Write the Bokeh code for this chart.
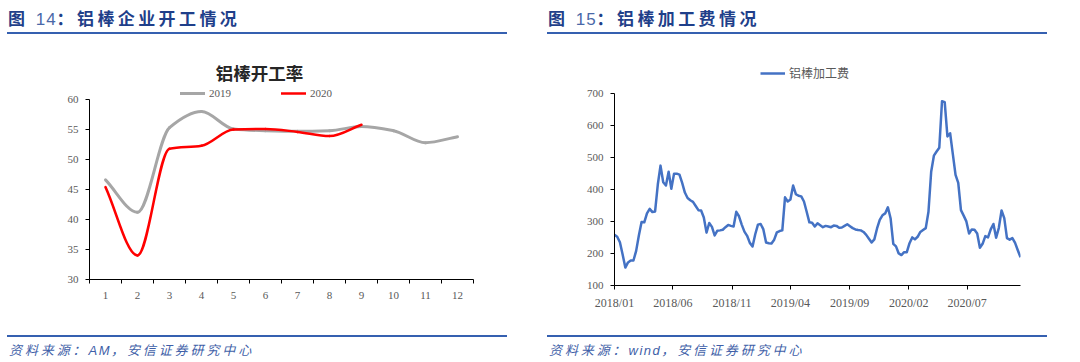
import numpy as np
import pandas as pd
from bokeh.plotting import figure
from bokeh.layouts import row, column
from bokeh.models import (Range1d, FixedTicker, Legend, LegendItem, Label, Div,
                          DatetimeTickFormatter, ColumnDataSource)
from bokeh.embed import file_html
from bokeh.resources import INLINE

# ---------------- data ----------------
fig_no_left, heading_left = "14", "铝棒企业开工情况"
fig_no_right, heading_right = "15", "铝棒加工费情况"
src_left = "AM"
src_right = "wind"
title_left = "铝棒开工率"

months = list(range(1, 13))
month_labels = [str(m) for m in months]
rate_2019 = [46.6, 41.2, 55.3, 58.0, 55.1, 54.8, 54.7, 54.8, 55.5, 54.8, 52.8, 53.8]
months_2020 = list(range(1, 10))
rate_2020 = [45.4, 34.0, 51.8, 52.3, 55.0, 55.1, 54.6, 53.9, 55.8]
left_yticks = [30, 35, 40, 45, 50, 55, 60]

fee_label = "铝棒加工费"
fee_start = "2018-01-01"
fee_values = [
    258, 252, 235, 197, 156, 172, 178, 178, 208, 256,
    298, 297, 325, 339, 329, 331, 415, 474, 422, 412,
    455, 402, 449, 449, 446, 420, 390, 373, 366, 361,
    348, 335, 334, 312, 265, 295, 283, 256, 271, 272,
    274, 282, 289, 286, 284, 330, 316, 290, 268, 255,
    233, 222, 260, 290, 292, 275, 234, 232, 231, 243,
    266, 270, 272, 375, 362, 368, 412, 385, 380, 378,
    362, 330, 297, 296, 284, 294, 288, 282, 286, 284,
    282, 287, 286, 280, 281, 286, 291, 285, 279, 275,
    273, 272, 267, 258, 246, 234, 244, 278, 305, 319,
    325, 344, 310, 230, 222, 200, 195, 204, 204, 232,
    250, 244, 252, 267, 273, 279, 330, 455, 505, 518,
    530, 675, 672, 565, 575, 510, 445, 420, 335, 318,
    300, 262, 275, 274, 262, 218, 230, 254, 250, 275,
    292, 249, 280, 334, 310, 248, 243, 248, 233, 210,
    188,
]
fee_tick_dates = ["2018-01-01", "2018-06-01", "2018-11-01", "2019-04-01",
                  "2019-09-01", "2020-02-01", "2020-07-01"]
right_yticks = [100, 200, 300, 400, 500, 600, 700]

# ---------------- styles ----------------
HEAD = "#1F3F8A"
RULE = "#3560B0"
FOOT = "#3F5FA8"
TICK = "#595959"
CJK = "Noto Sans CJK SC"
SERIF = "Liberation Serif"
PANEL_W = 540


def header(num, text):
    html = (
        f'<div style="position:relative;width:{PANEL_W}px;height:40px;margin:0;padding:0;">'
        f'<div style="position:absolute;left:8px;top:8px;font-family:\'{CJK}\';font-size:17px;'
        f'line-height:20px;letter-spacing:3.4px;color:{HEAD};font-weight:bold;white-space:nowrap;">'
        f'图 <span style="font-weight:normal;color:#4A68A8;font-family:\'Liberation Sans\';'
        f'letter-spacing:1px;">{num}</span>：{text}</div>'
        f'<div style="position:absolute;left:7px;top:32px;width:500px;height:0;'
        f'border-top:2px solid {RULE};"></div></div>'
    )
    return Div(text=html, width=PANEL_W, height=40, margin=(0, 0, 0, 0))


def footer(src):
    html = (
        f'<div style="position:relative;width:{PANEL_W}px;height:30px;margin:0;padding:0;">'
        f'<div style="position:absolute;left:7px;top:5px;width:500px;height:0;'
        f'border-top:2px solid {RULE};"></div>'
        f'<div style="position:absolute;left:9px;top:12px;font-family:\'{CJK}\';font-size:13px;'
        f'line-height:16px;letter-spacing:2.9px;color:{FOOT};font-style:italic;white-space:nowrap;">'
        f'资料来源：<span style="font-family:\'Liberation Sans\';letter-spacing:1.5px;">{src}</span>'
        f'，安信证券研究中心</div></div>'
    )
    return Div(text=html, width=PANEL_W, height=30, margin=(0, 0, 0, 0))


def style_axes(p):
    for ax in (p.xaxis, p.yaxis):
        ax.axis_line_color = "#000000"
        ax.major_tick_line_color = "#000000"
        ax.minor_tick_line_color = None
        ax.major_label_text_font = SERIF
        ax.major_label_text_font_size = "11px"
        ax.major_label_text_color = TICK
        ax.major_tick_in = 0
        ax.major_tick_out = 4


def smooth(xs, ys):
    """Bezier segments of a monotone (Fritsch-Carlson) smoothed line through the points."""
    x = np.asarray(xs, float)
    y = np.asarray(ys, float)
    h = np.diff(x)
    d = np.diff(y) / h
    m = np.zeros_like(y)
    m[0] = d[0]
    m[-1] = d[-1]
    for k in range(1, len(y) - 1):
        if d[k - 1] * d[k] > 0:
            w1 = 2 * h[k] + h[k - 1]
            w2 = h[k] + 2 * h[k - 1]
            m[k] = (w1 + w2) / (w1 / d[k - 1] + w2 / d[k])
    return dict(x0=x[:-1], y0=y[:-1], x1=x[1:], y1=y[1:],
                cx0=x[:-1] + h / 3, cy0=y[:-1] + m[:-1] * h / 3,
                cx1=x[1:] - h / 3, cy1=y[1:] - m[1:] * h / 3)


# ---------------- left chart ----------------
p1 = figure(width=PANEL_W, height=290, x_range=Range1d(0.5, 12.5), y_range=Range1d(30, 67.333),
            min_border_left=89, min_border_right=67, min_border_top=15, min_border_bottom=51,
            output_backend="svg", toolbar_location=None)
p1.grid.visible = False
p1.outline_line_color = None
style_axes(p1)
p1.yaxis.ticker = FixedTicker(ticks=left_yticks)
p1.yaxis.bounds = (left_yticks[0], left_yticks[-1])
p1.yaxis.major_label_standoff = 7
p1.xaxis.ticker = FixedTicker(ticks=months, minor_ticks=[m - 0.5 for m in months] + [12.5])
p1.xaxis.major_label_overrides = {m: lab for m, lab in zip(months, month_labels)}
p1.xaxis.major_tick_line_color = None
p1.xaxis.major_tick_out = 0
p1.xaxis.minor_tick_line_color = "#000000"
p1.xaxis.minor_tick_out = 4
p1.xaxis.minor_tick_in = 0
p1.xaxis.major_label_standoff = 8

r19 = p1.bezier(source=ColumnDataSource(smooth(months, rate_2019)), x0="x0", y0="y0", x1="x1", y1="y1",
                cx0="cx0", cy0="cy0", cx1="cx1", cy1="cy1",
                line_color="#A6A6A6", line_width=3, line_cap="round")
r20 = p1.bezier(source=ColumnDataSource(smooth(months_2020, rate_2020)), x0="x0", y0="y0", x1="x1", y1="y1",
                cx0="cx0", cy0="cy0", cx1="cx1", cy1="cy1",
                line_color="#FF0000", line_width=2.5, line_cap="round")

leg1 = Legend(items=[LegendItem(label="2019", renderers=[r19]), LegendItem(label="2020", renderers=[r20])],
              location=(91, 180), orientation="horizontal", spacing=50, padding=0, margin=0,
              glyph_width=25, glyph_height=12, label_height=12, label_standoff=4,
              label_text_font=SERIF, label_text_font_size="11px", label_text_color=TICK,
              background_fill_alpha=0, border_line_color=None)
p1.add_layout(leg1, "center")
p1.add_layout(Label(x=5.81, y=64.5, text=title_left, text_font=CJK, text_font_style="bold",
                    text_font_size="17.5px", text_color="#262626", text_align="center",
                    text_baseline="middle"))

# ---------------- right chart ----------------
fee_dates = pd.date_range(fee_start, periods=len(fee_values), freq="7D")
p2 = figure(width=PANEL_W, height=290, x_axis_type="datetime",
            x_range=Range1d(fee_dates[0], fee_dates[-1]), y_range=Range1d(100, 817.6),
            min_border_left=74, min_border_right=60, min_border_top=15, min_border_bottom=45,
            output_backend="svg", toolbar_location=None)
p2.grid.visible = False
p2.outline_line_color = None
style_axes(p2)
p2.yaxis.ticker = FixedTicker(ticks=right_yticks)
p2.yaxis.bounds = (right_yticks[0], right_yticks[-1])
p2.yaxis.major_label_standoff = 7
p2.xaxis.ticker = FixedTicker(ticks=[pd.Timestamp(d).value / 1e6 for d in fee_tick_dates])
fmt = "%Y/%m"
p2.xaxis.formatter = DatetimeTickFormatter(microseconds=fmt, milliseconds=fmt, seconds=fmt, minsec=fmt,
                                           minutes=fmt, hourmin=fmt, hours=fmt, days=fmt,
                                           months=fmt, years=fmt)
p2.xaxis.major_label_text_font_size = "12px"
p2.xaxis.major_label_standoff = 6

rf = p2.line(x=fee_dates, y=fee_values, line_color="#4472C4", line_width=2.5, line_join="round")
leg2 = Legend(items=[LegendItem(label=fee_label, renderers=[rf])],
              location=(146, 204), orientation="horizontal", padding=0, margin=0,
              glyph_width=25, glyph_height=12, label_height=12, label_standoff=4,
              label_text_font=CJK, label_text_font_size="12px", label_text_color=TICK,
              background_fill_alpha=0, border_line_color=None)
p2.add_layout(leg2, "center")

# ---------------- layout ----------------
left = column(header(fig_no_left, heading_left), p1, footer(src_left))
right = column(header(fig_no_right, heading_right), p2, footer(src_right))
layout = row(left, right)

open("out.html", "w").write(file_html(layout, INLINE))
